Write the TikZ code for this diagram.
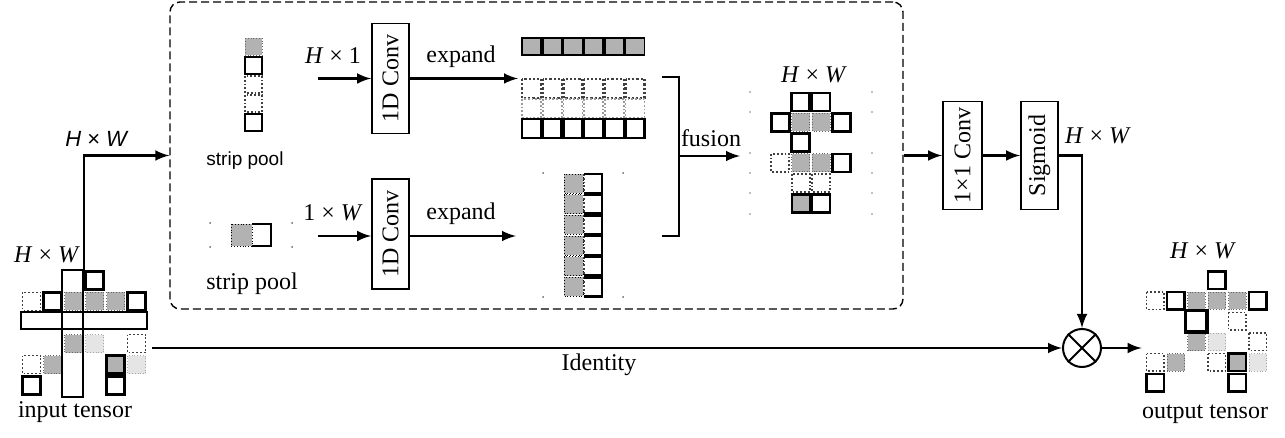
\documentclass[tikz,border=0pt]{standalone}
\usepackage{fontspec}
\setmainfont{Liberation Serif}
\setsansfont{Liberation Sans}
\usetikzlibrary{calc,arrows.meta}

\tikzset{
  cellG/.style={draw=black!60, densely dotted, fill=black!30},
  cellGT/.style={draw, line width=1.1pt, fill=black!30},
  cellT/.style={draw, line width=1.3pt},
  cellD/.style={draw=black!75, densely dotted, line width=0.9pt},
  cellL/.style={draw=black!35, densely dotted, fill=black!10},
  convbox/.style={draw, line width=0.9pt, rotate=90, inner sep=0pt,
    minimum width=55pt, minimum height=18.5pt},
  arr/.style={-latex, line width=1.4pt},
  tensor/.style={inner sep=0pt, minimum width=63pt, minimum height=63pt}
}

\begin{document}
\begin{tikzpicture}[x=0.5pt,y=-0.5pt,font=\fontsize{12}{14}\selectfont]
  \useasboundingbox (0,0) rectangle (1285,438);

  %% Strip pooling block
  \node[draw, dash pattern=on 4pt off 2pt, line width=0.7pt, rounded corners=5pt,
    inner sep=0pt, minimum width=366.5pt, minimum height=153.5pt] (blk) at (536.5,155.5) {};

  %% Input tensor
  \node[tensor] (inp) at (84,333) {};
  \begin{scope}[shift={(21,270)}]
    \foreach \x/\y/\s in {3/0/cellT,0/1/cellD,1/1/cellT,2/1/cellG,3/1/cellG,4/1/cellG,
      5/1/cellT,2/3/cellG,3/3/cellL,5/3/cellD,0/4/cellD,1/4/cellG,4/4/cellGT,5/4/cellL,
      0/5/cellT,4/5/cellT}
    {
      \draw[\s] (\x*21+1.5,\y*21+1.5) rectangle +(18,18);
    }
    \draw[line width=0.9pt] (41,0) rectangle (62,127);
    \draw[line width=0.9pt] (0,42) rectangle (126,59);
  \end{scope}
  \node (inHW) at (47,255) {\textit{H} × \textit{W}};
  \node (inLbl) at (75,412) {input tensor};

  %% Strip pool (H x 1)
  \begin{scope}[shift={(244,37)}]
    \foreach \y/\s in {0/cellG,1/cellT,2/cellD,3/cellD,4/cellT}
    {
      \draw[\s] (1,\y*19+1) rectangle +(17,17);
    }
  \end{scope}
  \node[font=\sffamily\fontsize{9.5}{11}\selectfont] (spA) at (245,161) {strip pool};

  %% Strip pool (1 x W)
  \begin{scope}[shift={(230,223)}]
    \draw[cellG, draw=black] (1,1) rectangle +(21,22);
    \draw[cellT, line width=1pt] (22,1) -- (41,1) -- (41,23) -- (22,23);
    \foreach \x/\y in {-20/0,62/0,-20/24,62/24}
      \fill[black!60] (\x,\y) circle (0.5pt);
  \end{scope}
  \node (spB) at (252,284) {strip pool};

  %% 1D convolutions
  \node[convbox] (convA) at (390.5,78.5) {1D Conv};
  \node[convbox] (convB) at (390.5,234) {1D Conv};
  \coordinate (inA) at (318,78.5);
  \coordinate (inB) at (318,236);
  \draw[arr] (inA) -- (convA);
  \draw[arr] (inB) -- (inB -| convB.north);
  \node (lblA) at (333,56) {\textit{H} × 1};
  \node (lblB) at (333,213) {1 × \textit{W}};

  %% Expand
  \coordinate (expA) at (518,78.5);
  \coordinate (expB) at (516,236);
  \draw[arr] (convA) -- (expA);
  \draw[arr] (inB -| convB.south) -- (expB);
  \node (expLblA) at (461,57) {expand};
  \node (expLblB) at (461,214) {expand};

  \begin{scope}[shift={(521,37)}]
    \foreach \x in {0,...,5}
      \draw[cellGT, line width=0.9pt] (\x*20.7+1,1) rectangle +(19,17);
  \end{scope}
  \begin{scope}[shift={(521,78)}]
    \foreach \x in {0,...,5}
    {
      \draw[cellD, line width=1.1pt] (\x*20.7+1,1) rectangle +(19,19);
      \draw[cellD, draw=black!40] (\x*20.7+1,21) rectangle +(19,19);
      \draw[cellT] (\x*20.7+1,41) rectangle +(19,19);
    }
  \end{scope}
  \begin{scope}[shift={(563,173)}]
    \foreach \y in {0,...,5}
    {
      \draw[cellG, draw=black] (1,\y*20.7+1) rectangle +(19,19);
      \draw[cellD] (21,\y*20.7+1) -- (21,\y*20.7+20);
      \draw[cellT] (21,\y*20.7+1) -- (39,\y*20.7+1) -- (39,\y*20.7+20) -- (21,\y*20.7+20);
    }
    \foreach \x/\y in {-20/0,60/0,-20/124,60/124}
      \fill[black!60] (\x,\y) circle (0.5pt);
  \end{scope}

  %% Fusion
  \draw[line width=1.4pt] (662,77) -- (679,77) -- (679,236) -- (662,236);
  \coordinate (brk) at (679,156);
  \coordinate (fusIn) at (740,156);
  \draw[arr] (brk) -- (fusIn);
  \node (fusLbl) at (711,138) {fusion};

  \begin{scope}[shift={(750,92)}]
    \foreach \x/\y/\s in {2/0/cellT,3/0/cellT,1/1/cellT,2/1/cellG,3/1/cellG,4/1/cellT,
      2/2/cellT,1/3/cellD,2/3/cellG,3/3/cellG,4/3/cellT,2/4/cellD,3/4/cellD,
      2/5/cellGT,3/5/cellT}
    {
      \draw[\s] (\x*20.3+1,\y*20.3+1) rectangle +(18,18);
    }
    \foreach \x in {0,122}
      \foreach \y in {0,20,61,81,101,122}
        \fill[black!50] (\x,\y) circle (0.45pt);
  \end{scope}
  \node (fusHW) at (814,75) {\textit{H} × \textit{W}};

  %% Attention branch
  \node[convbox, minimum width=54pt, minimum height=19.5pt] (convC) at (962.5,155.5) {1×1 Conv};
  \node[convbox, minimum width=54pt, minimum height=18.5pt] (sigm) at (1039.5,155.5) {Sigmoid};
  \draw[arr] (blk) -- (convC);
  \draw[arr] (convC) -- (sigm);
  \node (sigHW) at (1098,136) {\textit{H} × \textit{W}};

  \node[draw, circle, line width=1pt, minimum size=19pt, inner sep=0pt] (mul) at (1082,348) {};
  \draw[line width=1pt] (mul.45) -- (mul.225) (mul.135) -- (mul.315);
  \draw[arr] (sigm) -| (mul);

  %% Identity and input branch
  \draw[arr] (inp.north) |- (blk);
  \node[font=\sffamily\fontsize{11}{13}\selectfont] (blkHW) at (97,139) {\textit{H} × \textit{W}};
  \draw[arr] ([xshift=2.5pt]inp.east |- mul) -- (mul);
  \node (idLbl) at (599,365) {Identity};

  %% Output tensor
  \node[tensor, minimum width=61.5pt, minimum height=61pt] (outp) at (1206.5,331) {};
  \draw[arr] (mul) -- ([xshift=-1.5pt]outp.west |- mul);
  \begin{scope}[shift={(1145,270)}]
    \foreach \x/\y/\s in {3/0/cellT,0/1/cellD,1/1/cellT,2/1/cellG,3/1/cellG,4/1/cellG,
      5/1/cellT,4/2/cellD,2/3/cellG,3/3/cellL,5/3/cellD,0/4/cellD,1/4/cellG,3/4/cellD,
      4/4/cellGT,5/4/cellL,0/5/cellT,4/5/cellT}
    {
      \draw[\s] (\x*20.5+1.5,\y*20.5+1.5) rectangle +(17.5,17.5);
    }
    \draw[cellT, line width=1.6pt] (2*20.5-0.5,2*20.5-0.5) rectangle +(21.5,21.5);
  \end{scope}
  \node (outHW) at (1203,251) {\textit{H} × \textit{W}};
  \node (outLbl) at (1205,414) {output tensor};

\end{tikzpicture}
\end{document}
